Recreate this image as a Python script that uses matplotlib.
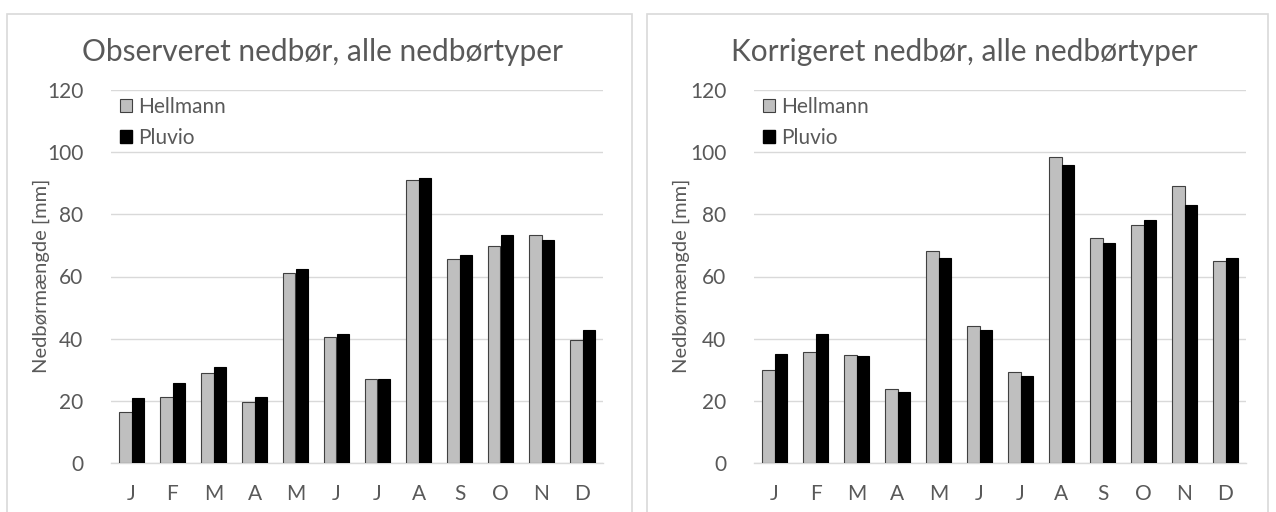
import matplotlib.pyplot as plt
import numpy as np
from matplotlib.patches import Rectangle, Patch

plt.rcParams['font.family'] = ['Lato', 'DejaVu Sans']

months = ['J', 'F', 'M', 'A', 'M', 'J', 'J', 'A', 'S', 'O', 'N', 'D']

# observed precipitation [mm]
obs_hellmann = [16.5, 21.2, 29.0, 19.7, 61.2, 40.6, 27.0, 91.0, 65.6, 69.8, 73.4, 39.7]
obs_pluvio = [20.9, 25.7, 30.9, 21.3, 62.5, 41.6, 27.0, 91.6, 66.9, 73.4, 71.7, 42.9]

# corrected precipitation [mm]
cor_hellmann = [29.8, 35.8, 34.6, 23.8, 68.1, 44.0, 29.2, 98.6, 72.3, 76.7, 89.0, 65.0]
cor_pluvio = [35.0, 41.6, 34.3, 22.8, 66.0, 42.9, 28.0, 95.8, 70.8, 78.3, 83.0, 66.0]

titles = ['Observeret nedbør, alle nedbørtyper', 'Korrigeret nedbør, alle nedbørtyper']
ylabel = 'Nedbørmængde [mm]'

grey_text = '#595959'
grid_col = '#d9d9d9'

fig = plt.figure(figsize=(12.76, 5.12), dpi=100)

# chart area frames
for x0, x1 in [(7, 632), (647, 1268)]:
    fig.patches.append(Rectangle((x0 / 1276, -0.1), (x1 - x0) / 1276, 1.1 - 14 / 512,
                                 transform=fig.transFigure, fill=False,
                                 edgecolor=grid_col, linewidth=1.2))

axes_left = [111 / 1276, 754 / 1276]
title_x = [322 / 1276, 964 / 1276]
ylabel_x = [41 / 1276, 681 / 1276]
data = [(obs_hellmann, obs_pluvio), (cor_hellmann, cor_pluvio)]

x = np.arange(len(months))
w = 0.295

for i in range(2):
    ax = fig.add_axes([axes_left[i], 1 - 463 / 512, 492 / 1276, 373 / 512])
    hel, plu = data[i]
    ax.bar(x - w / 2, hel, w, color='#bfbfbf', edgecolor='#404040', linewidth=0.8,
           label='Hellmann', zorder=3)
    ax.bar(x + w / 2, plu, w, color='black', edgecolor='black', linewidth=0.8,
           label='Pluvio', zorder=3)
    ax.set_xlim(-0.5, 11.5)
    ax.set_ylim(0, 120)
    ax.set_yticks(range(0, 121, 20))
    ax.set_xticks(x)
    ax.set_xticklabels(months)
    ax.grid(axis='y', color=grid_col, linewidth=1, zorder=0)
    for s in ['top', 'right', 'left']:
        ax.spines[s].set_visible(False)
    ax.spines['bottom'].set_color(grid_col)
    ax.spines['bottom'].set_linewidth(1)
    ax.tick_params(length=0, labelsize=15, colors=grey_text)
    ax.tick_params(axis='y', pad=20)
    ax.tick_params(axis='x', pad=15)

    handles = [Patch(facecolor='#bfbfbf', edgecolor='#404040', linewidth=0.8, label='Hellmann'),
               Patch(facecolor='black', edgecolor='black', label='Pluvio')]
    ax.legend(handles=handles, loc='upper left', bbox_to_anchor=(-0.012, 1.02),
              frameon=False, fontsize=15, handlelength=0.6, handleheight=0.6,
              handletextpad=0.3, labelspacing=0.5, labelcolor=grey_text,
              borderaxespad=0.3)

    fig.text(title_x[i], 1 - 52 / 512, titles[i], ha='center', va='center',
             fontsize=21.5, color=grey_text)
    fig.text(ylabel_x[i], 1 - 276 / 512, ylabel, ha='center', va='center',
             rotation=90, fontsize=14.5, color=grey_text)

fig.savefig('out.png', dpi=100)
